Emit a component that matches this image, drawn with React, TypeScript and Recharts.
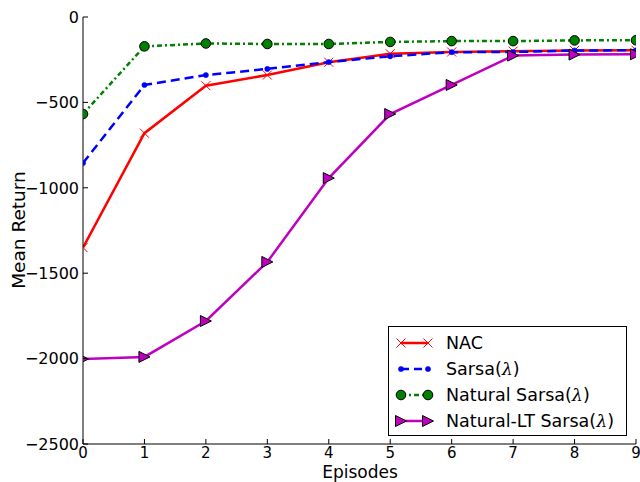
import { LineChart, Line, XAxis, YAxis } from 'recharts';

const episodes = [0, 1, 2, 3, 4, 5, 6, 7, 8, 9];
const nacReturns = [-1350, -680, -402, -340, -265, -215, -205, -200, -196, -195];
const sarsaReturns = [-855, -398, -340, -304, -264, -230, -206, -205, -196, -195];
const naturalSarsaReturns = [-568, -172, -155, -158, -158, -146, -141, -141, -137, -136];
const naturalLtSarsaReturns = [-2002, -1990, -1780, -1434, -943, -568, -398, -226, -220, -218];
const yTicks = [0, -500, -1000, -1500, -2000, -2500];

const FONT = '"DejaVu Sans", sans-serif';

const data = episodes.map((episode, i) => ({
  episode,
  nac: nacReturns[i],
  sarsa: sarsaReturns[i],
  naturalSarsa: naturalSarsaReturns[i],
  naturalLt: naturalLtSarsaReturns[i],
}));

const fmt = (v: number) => (v < 0 ? '\u2212' + Math.abs(v) : String(v));

// matplotlib-style ticks: pointing inward
const BottomTick = (props: any) => {
  const { x, y, payload } = props;
  return (
    <g>
      <line x1={x} y1={y} x2={x} y2={y - 5} stroke="#000" />
      <text x={x} y={y + 14} textAnchor="middle" fontSize={15} fontFamily={FONT} fill="#000">
        {fmt(payload.value)}
      </text>
    </g>
  );
};

const LeftTick = (props: any) => {
  const { x, y, payload } = props;
  return (
    <g>
      <line x1={x} y1={y} x2={x + 5} y2={y} stroke="#000" />
      <text x={x - 4} y={y} dy="0.36em" textAnchor="end" fontSize={16} fontFamily={FONT} fill="#000">
        {fmt(payload.value)}
      </text>
    </g>
  );
};

const TopTick = (props: any) => {
  const { x, y } = props;
  return <line x1={x} y1={y} x2={x} y2={y + 5} stroke="#000" />;
};

const RightTick = (props: any) => {
  const { x, y } = props;
  return <line x1={x} y1={y} x2={x - 5} y2={y} stroke="#000" />;
};

const CrossDot = (props: any) => {
  const { cx, cy, index } = props;
  if (cx == null || cy == null) return <g key={index} />;
  const s = 4.5;
  return (
    <g key={index} stroke="#ff0000" strokeWidth={1}>
      <line x1={cx - s} y1={cy - s} x2={cx + s} y2={cy + s} />
      <line x1={cx - s} y1={cy + s} x2={cx + s} y2={cy - s} />
    </g>
  );
};

const SmallDot = (props: any) => {
  const { cx, cy, index } = props;
  if (cx == null || cy == null) return <g key={index} />;
  return <circle key={index} cx={cx} cy={cy} r={2.6} fill="#0000ff" stroke="#0000ff" strokeWidth={0.5} />;
};

const CircleDot = (props: any) => {
  const { cx, cy, index } = props;
  if (cx == null || cy == null) return <g key={index} />;
  return <circle key={index} cx={cx} cy={cy} r={4.8} fill="#008000" stroke="#000" strokeWidth={1} />;
};

const TriangleDot = (props: any) => {
  const { cx, cy, index } = props;
  if (cx == null || cy == null) return <g key={index} />;
  const s = 5.5;
  return (
    <polygon
      key={index}
      points={`${cx + s},${cy} ${cx - s},${cy - s} ${cx - s},${cy + s}`}
      fill="#bf00bf"
      stroke="#000"
      strokeWidth={1}
    />
  );
};

const legendItems = [
  { label: 'NAC', color: '#ff0000', dash: undefined, Marker: CrossDot },
  { label: 'Sarsa', color: '#0000ff', dash: '8 5', Marker: SmallDot },
  { label: 'Natural Sarsa', color: '#008000', dash: '5 3 2 3', Marker: CircleDot },
  { label: 'Natural-LT Sarsa', color: '#bf00bf', dash: undefined, Marker: TriangleDot },
];

const LegendBox = () => (
  <div
    style={{
      position: 'absolute',
      left: 388,
      top: 326,
      width: 237,
      height: 108,
      border: '1px solid #000',
      background: '#fff',
      fontFamily: FONT,
      fontSize: 17.5,
    }}
  >
    {legendItems.map((item, i) => (
      <div
        key={item.label}
        style={{ position: 'absolute', left: 0, top: 3 + i * 26, height: 26, display: 'flex', alignItems: 'center' }}
      >
        <svg width={57} height={26} style={{ display: 'block' }}>
          <line
            x1={12}
            y1={13}
            x2={39}
            y2={13}
            stroke={item.color}
            strokeWidth={2.5}
            strokeDasharray={item.dash}
          />
          <item.Marker cx={12} cy={13} index={0} />
          <item.Marker cx={39} cy={13} index={1} />
        </svg>
        <span style={{ whiteSpace: 'nowrap' }}>
          {item.label}
          {item.label !== 'NAC' && (
            <>
              (<i style={{ fontFamily: '"DejaVu Serif", serif' }}>λ</i>)
            </>
          )}
        </span>
      </div>
    ))}
  </div>
);

export default function App() {
  return (
    <div style={{ position: 'absolute', left: 0, top: 0, width: 640, height: 482, background: '#fff' }}>
      <LineChart width={640} height={482} data={data} margin={{ top: 17, right: 4, bottom: 0, left: 0 }}>
        <XAxis
          dataKey="episode"
          type="number"
          domain={[0, 9]}
          ticks={episodes}
          height={38}
          tickSize={0}
          tickMargin={0}
          tickLine={false}
          axisLine={{ stroke: '#000' }}
          tick={<BottomTick />}
          interval={0}
          allowDataOverflow
          label={() => (
            <text x={360} y={478} textAnchor="middle" fontSize={17} fontFamily={FONT} fill="#000">
              Episodes
            </text>
          )}
        />
        <XAxis
          xAxisId="top"
          orientation="top"
          dataKey="episode"
          type="number"
          domain={[0, 9]}
          ticks={episodes}
          height={0}
          tickSize={0}
          tickMargin={0}
          tickLine={false}
          axisLine={{ stroke: '#000' }}
          tick={<TopTick />}
          interval={0}
          allowDataOverflow
        />
        <YAxis
          type="number"
          domain={[-2500, 0]}
          ticks={yTicks}
          width={83}
          tickSize={0}
          tickMargin={0}
          tickLine={false}
          axisLine={{ stroke: '#000' }}
          tick={<LeftTick />}
          interval={0}
          allowDataOverflow
          label={() => (
            <text
              x={18}
              y={230}
              transform="rotate(-90, 18, 230)"
              textAnchor="middle"
              dominantBaseline="central"
              fontSize={18.5}
              fontFamily={FONT}
              fill="#000"
            >
              Mean Return
            </text>
          )}
        />
        <YAxis
          yAxisId="right"
          orientation="right"
          type="number"
          domain={[-2500, 0]}
          ticks={yTicks}
          width={0}
          tickSize={0}
          tickMargin={0}
          tickLine={false}
          axisLine={{ stroke: '#000' }}
          tick={<RightTick />}
          interval={0}
          allowDataOverflow
        />
        <Line
          dataKey="nac"
          name="NAC"
          stroke="#ff0000"
          strokeWidth={2.5}
          dot={<CrossDot />}
          activeDot={false}
          isAnimationActive={false}
        />
        <Line
          dataKey="sarsa"
          name="Sarsa(λ)"
          stroke="#0000ff"
          strokeWidth={2.5}
          strokeDasharray="9 5"
          dot={<SmallDot />}
          activeDot={false}
          isAnimationActive={false}
        />
        <Line
          dataKey="naturalSarsa"
          name="Natural Sarsa(λ)"
          stroke="#008000"
          strokeWidth={2.5}
          strokeDasharray="5 3 2 3"
          dot={<CircleDot />}
          activeDot={false}
          isAnimationActive={false}
        />
        <Line
          dataKey="naturalLt"
          name="Natural-LT Sarsa(λ)"
          stroke="#bf00bf"
          strokeWidth={2.5}
          dot={<TriangleDot />}
          activeDot={false}
          isAnimationActive={false}
        />
      </LineChart>
      <LegendBox />
    </div>
  );
}
